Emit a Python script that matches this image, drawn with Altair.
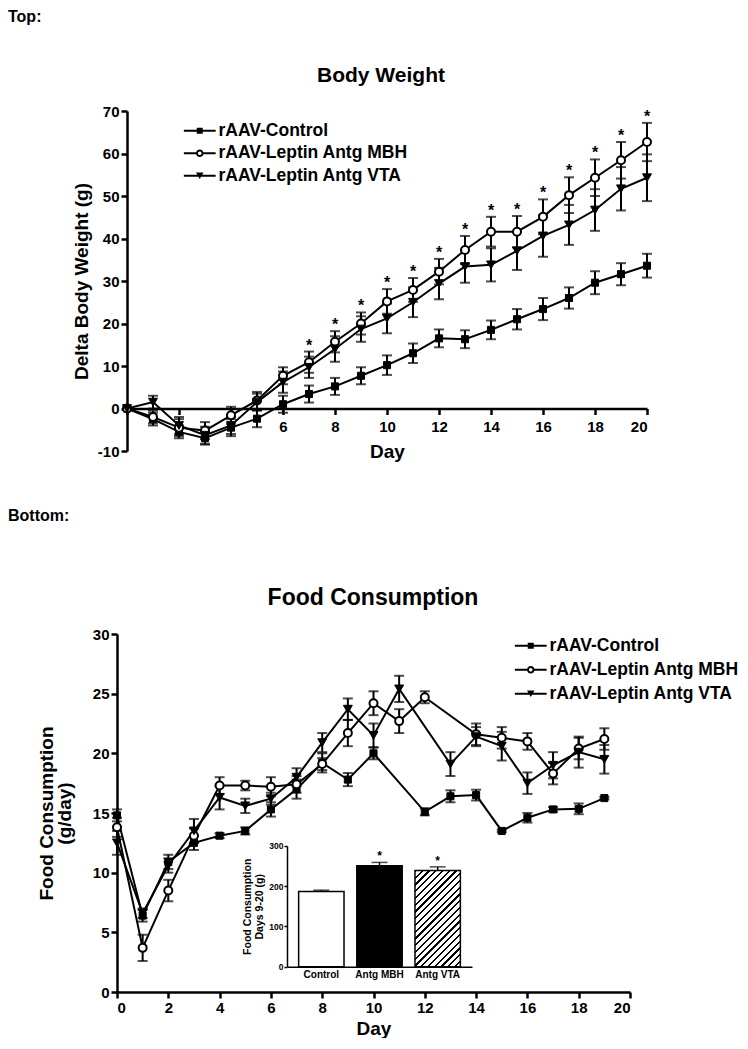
import altair as alt
import pandas as pd

FONT = "Liberation Sans"
SERIES = ["rAAV-Control", "rAAV-Leptin Antg MBH", "rAAV-Leptin Antg VTA"]

# ---------------- Top: body weight ----------------
bw_days = list(range(21))
bw_control = [0, -2.5, -5.5, -7.0, -4.5, -2.4, 1.0, 3.4, 5.2, 7.7, 10.2, 13.0, 16.5, 16.3, 18.5, 21.0, 23.4, 26.0, 29.6, 31.6, 33.6]
bw_control_err = [0, 1.5, 1.5, 1.5, 2.0, 2.0, 2.0, 2.0, 2.0, 2.0, 2.3, 2.3, 2.1, 2.1, 2.2, 2.4, 2.6, 2.5, 2.7, 2.6, 2.8]
bw_mbh = [0, -2.0, -4.5, -5.2, -1.6, 1.9, 7.7, 10.9, 15.7, 20.0, 25.2, 27.9, 32.2, 37.3, 41.6, 41.6, 45.1, 50.2, 54.3, 58.4, 62.7]
bw_mbh_err = [0, 1.5, 2.0, 2.0, 2.0, 2.0, 2.0, 2.5, 2.5, 2.6, 2.9, 2.8, 3.0, 3.3, 3.5, 3.7, 4.1, 4.2, 4.3, 4.3, 4.5]
bw_vta = [0, 1.5, -4.0, -6.3, -4.0, 1.5, 6.2, 9.7, 14.0, 18.7, 21.2, 25.0, 29.4, 33.4, 33.8, 37.1, 40.6, 43.2, 46.7, 51.7, 54.3]
bw_vta_err = [0, 1.5, 2.0, 2.0, 2.0, 2.0, 2.5, 2.5, 3.0, 3.0, 3.5, 3.5, 3.7, 3.8, 3.9, 4.5, 4.9, 4.7, 4.9, 5.1, 5.5]
bw_sig_days = list(range(7, 21))

# ---------------- Bottom: food consumption ----------------
fc_days = list(range(20))
fc_control = [14.8, 6.4, 10.9, 12.5, 13.1, 13.5, 15.3, 17.0, 19.2, 17.8, 20.0, None, 15.1, 16.4, 16.5, 13.5, 14.6, 15.3, 15.35, 16.25]
fc_control_err = [0.5, 0.5, 0.6, 0.6, 0.2, 0.3, 0.6, 0.8, 0.8, 0.55, 0.5, None, 0.3, 0.5, 0.45, 0.1, 0.4, 0.2, 0.45, 0.1]
fc_mbh = [13.8, 3.7, 8.5, 13.1, 17.3, 17.3, 17.2, 17.4, 19.1, 21.7, 24.2, 22.7, 24.7, None, 21.6, 21.3, 21.0, 18.3, 20.4, 21.2]
fc_mbh_err = [0.8, 1.1, 0.9, 0.6, 0.7, 0.4, 0.8, 0.7, 0.5, 1.1, 1.0, 1.0, 0.5, None, 0.9, 0.9, 0.7, 0.9, 0.9, 0.9]
fc_vta = [12.5, 6.6, 10.6, 13.5, 16.3, 15.6, 16.2, 18.0, 20.9, 23.7, 21.5, 25.4, None, 19.1, 21.4, 20.6, 17.5, 19.0, 20.1, 19.5]
fc_vta_err = [1.0, 0.4, 0.6, 1.0, 1.0, 0.6, 0.5, 0.75, 0.8, 0.9, 1.0, 1.1, None, 1.0, 0.8, 1.2, 0.9, 1.1, 1.3, 1.2]

# ---------------- Inset bar chart ----------------
inset_groups = ["Control", "Antg MBH", "Antg VTA"]
inset_values = [187, 251, 239]
inset_err = [3, 8, 9]
inset_sig = ["", "*", "*"]

# ---------------- Text ----------------
label_top = "Top:"
label_bottom = "Bottom:"
title_top = "Body Weight"
title_bottom = "Food Consumption"

# legend symbols: line + marker, drawn as filled SVG paths in unit coordinates
LINE_BAR = "M-5.3,-0.33H5.3V0.33H-5.3Z"
LEG_PATHS = [
    LINE_BAR + "M-1,-1H1V1H-1Z",
    "M-5.3,-0.33H-1V0.33H-5.3Z M1,-0.33H5.3V0.33H1Z"
    "M1.25,0A1.25,1.25,0,1,1,-1.25,0A1.25,1.25,0,1,1,1.25,0Z"
    "M0.6,0A0.6,0.6,0,1,0,-0.6,0A0.6,0.6,0,1,0,0.6,0Z",
    LINE_BAR + "M-1.25,-1.05L1.25,-1.05L0,1.1Z",
]
MARKERS = [("square", "black", 50), ("circle", "white", 64), ("triangle-down", "black", 80)]


def long_df(days, vals_list, errs_list):
    rows = []
    for name, vals, errs in zip(SERIES, vals_list, errs_list):
        for d, v, e in zip(days, vals, errs):
            if v is None:
                continue
            rows.append({"day": d, "series": name, "value": v, "err": e})
    return pd.DataFrame(rows)


def text_layer(label, x, y, size, align="left", baseline="top"):
    return alt.Chart(pd.DataFrame({"t": [label]})).mark_text(
        font=FONT, fontWeight="bold", fontSize=size, align=align, baseline=baseline, color="black"
    ).encode(text="t:N", x=alt.value(x), y=alt.value(y))


def series_panel(df, xscale, yscale, xaxis, yaxis, legend, sig_df):
    base = alt.Chart(df)
    X = alt.X("day:Q", scale=xscale, axis=xaxis)
    Y = alt.Y("value:Q", scale=yscale, axis=yaxis)
    eb = base.transform_filter("datum.err > 0").transform_calculate(
        lo="datum.value - datum.err", hi="datum.value + datum.err"
    )
    rules = eb.mark_rule(color="black", strokeWidth=2).encode(
        x=X, y=alt.Y("lo:Q", scale=yscale, axis=yaxis), y2="hi:Q"
    )
    cap_hi = eb.mark_tick(orient="horizontal", size=10, thickness=2, color="black").encode(
        x=X, y=alt.Y("hi:Q", scale=yscale, axis=yaxis)
    )
    cap_lo = eb.mark_tick(orient="horizontal", size=10, thickness=2, color="black").encode(
        x=X, y=alt.Y("lo:Q", scale=yscale, axis=yaxis)
    )
    lines = base.mark_line(color="black", strokeWidth=2).encode(x=X, y=Y, detail="series:N")
    layers = [rules, cap_hi, cap_lo, lines]
    for name, (shape, fill, size) in zip(SERIES, MARKERS):
        layers.append(
            base.transform_filter(alt.datum.series == name)
            .mark_point(shape=shape, filled=True, fill=fill, stroke="black",
                        strokeWidth=2 if fill == "white" else 1, size=size, opacity=1)
            .encode(x=X, y=Y)
        )
    leg = base.mark_point(opacity=0, filled=True, fill="black", strokeWidth=0, size=36).encode(
        x=X,
        y=Y,
        shape=alt.Shape("series:N", title=None, scale=alt.Scale(domain=SERIES, range=LEG_PATHS), legend=legend),
    )
    layers.append(leg)
    if sig_df is not None:
        star = alt.Chart(sig_df).transform_calculate(hi="datum.value + datum.err").mark_text(
            text="*", font=FONT, fontWeight="bold", fontSize=16, baseline="alphabetic", dy=-1, color="black"
        ).encode(x=X, y=alt.Y("hi:Q", scale=yscale, axis=yaxis))
        layers.append(star)
    return layers


def make_legend(lx, ly, row_pad):
    return alt.Legend(
        orient="none", legendX=lx, legendY=ly, padding=0, symbolSize=36, symbolStrokeWidth=0,
        symbolFillColor="black", symbolOpacity=1, symbolOffset=8, labelOffset=10,
        labelFont=FONT, labelFontSize=17.5, labelFontWeight="bold", labelColor="black",
        labelLimit=400, rowPadding=row_pad,
    )


NEG_LABEL = "datum.value < 0 ? '-' + abs(datum.value) : datum.label"

# ---------------- Top panel ----------------
bw_df = long_df(bw_days, [bw_control, bw_mbh, bw_vta], [bw_control_err, bw_mbh_err, bw_vta_err])
bw_sig = bw_df[(bw_df.series == SERIES[1]) & (bw_df.day.isin(bw_sig_days))]

top_x = alt.Axis(values=list(range(0, 21, 2)), labelExpr="datum.value >= 6 ? datum.label : ''",
                 offset=-42.5, title="Day", titleFontSize=19, labelPadding=5, titlePadding=8)
top_y = alt.Axis(values=list(range(-10, 71, 10)), labelExpr=NEG_LABEL, title="Delta Body Weight (g)",
                 titleFontSize=19, titlePadding=6)
top_layers = series_panel(
    bw_df,
    alt.Scale(domain=[0, 20], nice=False),
    alt.Scale(domain=[-10, 70], nice=False, zero=False),
    top_x, top_y, make_legend(56, 11, 3.5), bw_sig,
)
top_layers += [
    text_layer(label_top, -119, -102.5, 16),
    text_layer(title_top, 254, -35.5, 21, align="center", baseline="middle"),
]
top = alt.layer(*top_layers).properties(width=520, height=340)

# ---------------- Bottom panel ----------------
fc_df = long_df(fc_days, [fc_control, fc_mbh, fc_vta], [fc_control_err, fc_mbh_err, fc_vta_err])
bot_x = alt.Axis(values=list(range(0, 21, 2)), title="Day", titleFontSize=19, labelPadding=2, titlePadding=4)
bot_y = alt.Axis(values=list(range(0, 31, 5)), title=["Food Consumption", "(g/day)"], titleFontSize=19,
                 titleLineHeight=18, titlePadding=18, offset=10)
bot_layers = series_panel(
    fc_df,
    alt.Scale(domain=[0, 20], nice=False, range=[-10, 503]),
    alt.Scale(domain=[0, 30], nice=False),
    bot_x, bot_y, make_legend(387, 3, 5), None,
)
bot_layers += [
    text_layer(label_bottom, -119, -126, 16),
    text_layer(title_bottom, 246, -36, 23, align="center", baseline="middle"),
]
main_bottom = alt.layer(*bot_layers)

# inset
inset_df = pd.DataFrame({"group": inset_groups, "value": inset_values, "err": inset_err, "sig": inset_sig})
ix_scale = alt.Scale(domain=inset_groups, range=[160, 345], paddingInner=0.22, paddingOuter=0.2)
iy_scale = alt.Scale(domain=[0, 300], range=[332.7, 211.9], nice=False)
ix_axis = alt.Axis(orient="bottom", offset=-25.3, ticks=False, labelAngle=0, labelFontSize=10, title=None,
                   domainWidth=1.5, labelPadding=3)
iy_axis = alt.Axis(orient="left", offset=-160, values=[0, 100, 200, 300], tickSize=3, tickWidth=1.5,
                   domainWidth=1.5, labelFontSize=8.5, labelPadding=1,
                   title=["Food Consumption", "Days 9-20 (g)"], titleFontSize=10.5, titlePadding=4)
IX = alt.X("group:N", sort=inset_groups, scale=ix_scale, axis=ix_axis)
IY = alt.Y("value:Q", scale=iy_scale, axis=iy_axis)

# diagonal hatch for the VTA bar (gradient stripes)
N_STRIPES = 21
stops = []
for i in range(N_STRIPES):
    a = i / N_STRIPES
    b = (i + 0.33) / N_STRIPES
    c = (i + 1) / N_STRIPES
    stops += [{"offset": a, "color": "black"}, {"offset": b, "color": "black"},
              {"offset": b, "color": "white"}, {"offset": c, "color": "white"}]
HATCH = {"gradient": "linear", "x1": 0, "y1": 0, "x2": 0.568, "y2": 1.204, "stops": stops}

ibase = alt.Chart(inset_df)
bar_fills = ["white", "black", HATCH]
inset_layers = []
for g, f in zip(inset_groups, bar_fills):
    inset_layers.append(
        ibase.transform_filter(alt.datum.group == g)
        .mark_bar(fill=f, stroke="black", strokeWidth=1.5)
        .encode(x=IX, y=IY)
    )
ie = ibase.transform_calculate(hi="datum.value + datum.err")
inset_layers.append(ie.mark_rule(color="black", strokeWidth=1.5).encode(x=IX, y=IY, y2="hi:Q"))
inset_layers.append(ie.mark_tick(orient="horizontal", size=16, thickness=1.5, color="black").encode(
    x=IX, y=alt.Y("hi:Q", scale=iy_scale, axis=iy_axis)))
inset_layers.append(ie.mark_text(font=FONT, fontWeight="bold", fontSize=12, baseline="alphabetic", dy=-2,
                                 color="black").encode(
    x=IX, y=alt.Y("hi:Q", scale=iy_scale, axis=iy_axis), text="sig:N"))
inset = alt.layer(*inset_layers)

bottom = alt.layer(main_bottom, inset).resolve_scale(x="independent", y="independent").properties(
    width=503, height=358)

chart = (
    alt.vconcat(top, bottom, spacing=46)
    .resolve_scale(shape="independent")
    .resolve_legend(shape="independent")
    .properties(padding=0)
    .configure_view(stroke=None)
    .configure_axis(
        domainColor="black", domainWidth=2.5, tickColor="black", tickWidth=2.5, tickSize=6,
        labelColor="black", labelFont=FONT, labelFontWeight="bold", labelFontSize=15,
        titleColor="black", titleFont=FONT, titleFontWeight="bold", grid=False,
    )
)

chart.save("out.html", embed_options={"renderer": "svg", "actions": False})
